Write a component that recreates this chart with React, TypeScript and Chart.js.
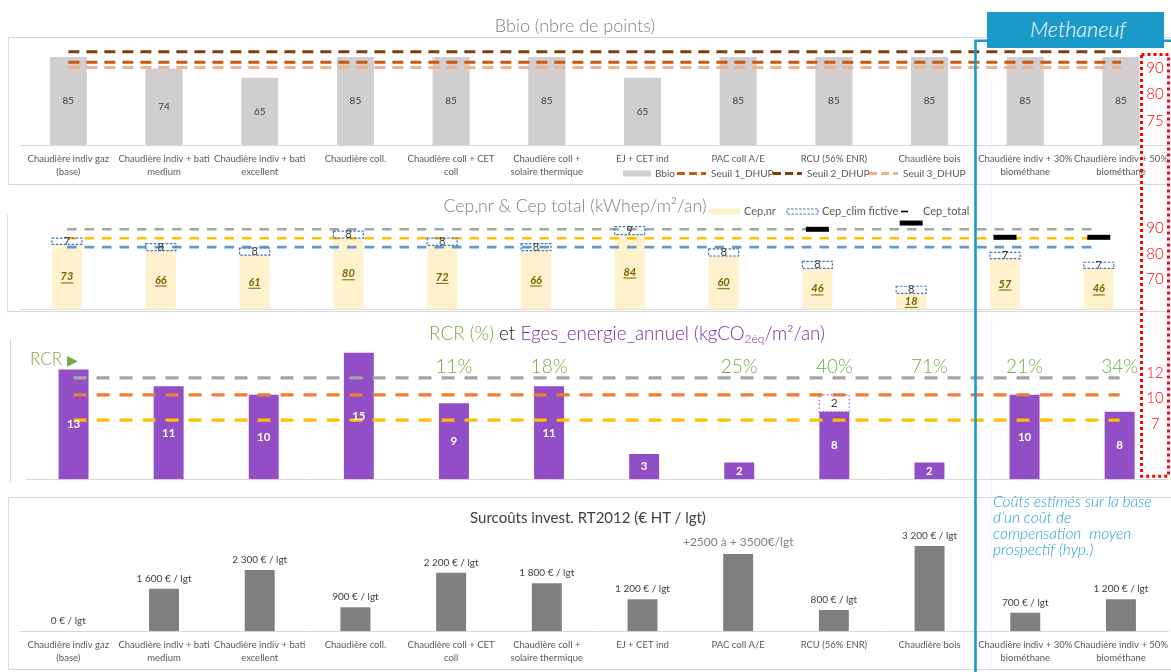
import React, { useEffect, useRef } from "react";
import { Chart, registerables } from "chart.js";

Chart.register(...registerables);

const W = 1171;
const H = 672;
const FONT = "Lato, 'Noto Sans', sans-serif";

// Scenario names, split over two lines
const categories: string[][] = [
  ["Chaudière indiv gaz", "(base)"],
  ["Chaudière indiv + bati", "medium"],
  ["Chaudière indiv + bati", "excellent"],
  ["Chaudière coll."],
  ["Chaudière coll + CET", "coll"],
  ["Chaudière coll +", "solaire thermique"],
  ["EJ + CET ind"],
  ["PAC coll A/E"],
  ["RCU (56% ENR)"],
  ["Chaudière bois"],
  ["Chaudière indiv + 30%", "biométhane"],
  ["Chaudière indiv + 50%", "biométhane"],
];

// Bbio (points)
const bbio = [85, 74, 65, 85, 85, 85, 65, 85, 85, 85, 85, 85];
const seuil1 = [80, 80, 80, 80, 80, 80, 80, 80, 80, 80, 80, 80];
const seuil2 = [90, 90, 90, 90, 90, 90, 90, 90, 90, 90, 90, 90];
const seuil3 = [75, 75, 75, 75, 75, 75, 75, 75, 75, 75, 75, 75];

// Cep (kWhep/m²/an)
const cepNr = [73, 66, 61, 80, 72, 66, 84, 60, 46, 18, 57, 46];
const cepClim = [7, 8, 8, 8, 8, 8, 9, 8, 8, 8, 7, 7];
const cepTotal = [null, null, null, null, null, null, null, null, 90, 97, 81, 81];
const cepRefHigh = [90, 90, 90, 90, 90, 90, 90, 90, 90, 90, 90, 90];
const cepRefMid = [80, 80, 80, 80, 80, 80, 80, 80, 80, 80, 80, 80];
const cepRefLow = [70, 70, 70, 70, 70, 70, 70, 70, 70, 70, 70, 70];

// Eges énergie annuel (kgCO2éq/m²/an) and RCR (%)
const eges = [13, 11, 10, 15, 9, 11, 3, 2, 8, 2, 10, 8];
const egesExtra = [null, null, null, null, null, null, null, null, 2, null, null, null];
const rcrPct = [null, null, null, null, 11, 18, null, 25, 40, 71, 21, 34];
const egesRefHigh = [12, 12, 12, 12, 12, 12, 12, 12, 12, 12, 12, 12];
const egesRefMid = [10, 10, 10, 10, 10, 10, 10, 10, 10, 10, 10, 10];
const egesRefLow = [7, 7, 7, 7, 7, 7, 7, 7, 7, 7, 7, 7];

// Surcoûts d'investissement (€ HT / lgt)
const surcouts = [0, 1600, 2300, 900, 2200, 1800, 1200, 2900, 800, 3200, 700, 1200];
const surcoutRangeLabels: (string | null)[] = [null, null, null, null, null, null, null, "+2500 à + 3500€/lgt", null, null, null, null];

type Area = { left: number; right: number; top: number; bottom: number };

const AREA_BBIO: Area = { left: 20.5, right: 1168.8, top: 41.5, bottom: 145 };
const AREA_CEP: Area = { left: 20.1, right: 1145.7, top: 220.4, bottom: 309.4 };
const AREA_EGES: Area = { left: 26, right: 1167.2, top: 352.55, bottom: 479.3 };
const AREA_COST: Area = { left: 20.5, right: 1168.8, top: 538.1, bottom: 631.3 };

const fmtThousands = (v: number) => String(v).replace(/\B(?=(\d{3})+(?!\d))/g, " ");

function txt(
  ctx: CanvasRenderingContext2D,
  t: string,
  x: number,
  y: number,
  font: string,
  color: string,
  align: CanvasTextAlign = "center"
) {
  ctx.font = font;
  ctx.fillStyle = color;
  ctx.textAlign = align;
  ctx.textBaseline = "middle";
  ctx.fillText(t, x, y);
}

function dashLine(ctx: CanvasRenderingContext2D, x0: number, x1: number, y: number, color: string, width: number, dash: number[]) {
  ctx.save();
  ctx.strokeStyle = color;
  ctx.lineWidth = width;
  ctx.setLineDash(dash);
  ctx.beginPath();
  ctx.moveTo(x0, y);
  ctx.lineTo(x1, y);
  ctx.stroke();
  ctx.restore();
}

function dashRect(ctx: CanvasRenderingContext2D, x: number, y: number, w: number, h: number, color: string, width: number, dash: number[]) {
  ctx.save();
  ctx.strokeStyle = color;
  ctx.lineWidth = width;
  ctx.setLineDash(dash);
  ctx.strokeRect(x, y, w, h);
  ctx.restore();
}

function baseOptions(area: Area, yMax: number): any {
  return {
    responsive: false,
    animation: false,
    devicePixelRatio: 1,
    events: [],
    layout: {
      padding: { left: area.left, right: W - area.right, top: area.top, bottom: H - area.bottom },
    },
    plugins: { legend: { display: false }, tooltip: { enabled: false }, title: { display: false } },
    scales: {
      x: {
        stacked: true,
        offset: true,
        grid: { display: false, drawTicks: false },
        ticks: { display: false },
        border: { display: true, color: "#d9d9d9", width: 1 },
        afterFit: (s: any) => {
          s.height = 0;
        },
      },
      y: { display: false, stacked: true, min: 0, max: yMax },
    },
  };
}

function refLine(label: string, data: number[], color: string, width: number, dash: number[], stack: string) {
  return {
    type: "line" as const,
    label,
    data,
    borderColor: color,
    backgroundColor: color,
    borderWidth: width,
    borderDash: dash,
    pointRadius: 0,
    fill: false,
    stack,
    order: 0,
    clip: false,
  };
}

function drawCategoryLabels(chart: any, offset: number, lineGap: number) {
  const ctx: CanvasRenderingContext2D = chart.ctx;
  const xs = chart.scales.x;
  const y0 = chart.chartArea.bottom + offset;
  categories.forEach((lines, i) => {
    const x = xs.getPixelForValue(i);
    lines.forEach((t, k) => txt(ctx, t, x, y0 + k * lineGap, `9.5px ${FONT}`, "#595959"));
  });
}

function bbioConfig(): any {
  return {
    type: "bar",
    data: {
      labels: categories,
      datasets: [
        {
          type: "bar",
          label: "Bbio",
          data: bbio,
          backgroundColor: "#d0cece",
          barPercentage: 0.387,
          categoryPercentage: 1,
          stack: "bbio",
          order: 2,
        },
        refLine("Seuil 1_DHUP", seuil1, "#c55a11", 3, [11, 7], "s1"),
        refLine("Seuil 2_DHUP", seuil2, "#843c0c", 3, [11, 7], "s2"),
        refLine("Seuil 3_DHUP", seuil3, "#f4b183", 3, [11, 7], "s3"),
      ],
    },
    options: baseOptions(AREA_BBIO, 100),
    plugins: [
      {
        id: "bbioLabels",
        afterDatasetsDraw(chart: any) {
          const ctx: CanvasRenderingContext2D = chart.ctx;
          ctx.save();
          drawCategoryLabels(chart, 14.3, 13);
          chart.getDatasetMeta(0).data.forEach((el: any, i: number) => {
            txt(ctx, String(bbio[i]), el.x, (el.y + el.base) / 2, `10px ${FONT}`, "#404040");
          });
          // legend
          const ly = 173.5;
          ctx.fillStyle = "#d0cece";
          ctx.fillRect(623, ly - 3, 28, 6);
          txt(ctx, "Bbio", 655, ly, `10px ${FONT}`, "#595959", "left");
          dashLine(ctx, 677, 706, ly, "#c55a11", 3, [8, 4]);
          txt(ctx, "Seuil 1_DHUP", 711, ly, `10px ${FONT}`, "#595959", "left");
          dashLine(ctx, 773, 802, ly, "#843c0c", 3, [8, 4]);
          txt(ctx, "Seuil 2_DHUP", 807, ly, `10px ${FONT}`, "#595959", "left");
          dashLine(ctx, 869, 898, ly, "#f4b183", 3, [8, 4]);
          txt(ctx, "Seuil 3_DHUP", 903, ly, `10px ${FONT}`, "#595959", "left");
          ctx.restore();
        },
      },
    ],
  };
}

function cepConfig(): any {
  return {
    type: "bar",
    data: {
      labels: categories,
      datasets: [
        {
          type: "bar",
          label: "Cep,nr",
          data: cepNr,
          backgroundColor: "#fff2cc",
          barPercentage: 0.32,
          categoryPercentage: 1,
          stack: "cep",
          order: 2,
        },
        {
          type: "bar",
          label: "Cep_clim fictive",
          data: cepClim,
          backgroundColor: "#ffffff",
          barPercentage: 0.32,
          categoryPercentage: 1,
          stack: "cep",
          order: 2,
        },
        refLine("ref 90", cepRefHigh, "#a5a5a5", 2.6, [9.5, 8], "r1"),
        refLine("ref 80", cepRefMid, "#ffc000", 2.6, [9.5, 8], "r2"),
        refLine("ref 70", cepRefLow, "#5b9bd5", 2.6, [9.5, 8], "r3"),
        {
          type: "line",
          label: "Cep_total",
          data: cepTotal,
          showLine: false,
          pointStyle: "line",
          pointRadius: 11.5,
          pointBorderWidth: 5,
          pointBorderColor: "#000000",
          pointBackgroundColor: "#000000",
          borderColor: "#000000",
          stack: "tot",
          order: -1,
          clip: false,
        },
      ],
    },
    options: baseOptions(AREA_CEP, 100),
    plugins: [
      {
        id: "cepLabels",
        afterDatasetsDraw(chart: any) {
          const ctx: CanvasRenderingContext2D = chart.ctx;
          ctx.save();
          // dashed outline of the fictive cooling part
          chart.getDatasetMeta(1).data.forEach((el: any) => {
            dashRect(ctx, el.x - el.width / 2, el.y, el.width, el.base - el.y, "#4472c4", 1.2, [2.5, 1.5]);
          });
          chart.getDatasetMeta(0).data.forEach((el: any, i: number) => {
            const y = (el.y + el.base) / 2;
            const s = String(cepNr[i]);
            const font = `italic 700 11px ${FONT}`;
            txt(ctx, s, el.x, y, font, "#7f6000");
            const w = ctx.measureText(s).width;
            ctx.fillStyle = "#7f6000";
            ctx.fillRect(el.x - w / 2, y + 5.5, w, 1);
          });
          chart.getDatasetMeta(1).data.forEach((el: any, i: number) => {
            txt(ctx, String(cepClim[i]), el.x, (el.y + el.base) / 2, `11px ${FONT}`, "#404040");
          });
          // legend
          const ly = 211.5;
          ctx.fillStyle = "#fff2cc";
          ctx.fillRect(709, ly - 3, 31, 6);
          txt(ctx, "Cep,nr", 744, ly, `11px ${FONT}`, "#595959", "left");
          ctx.fillStyle = "#ffffff";
          ctx.fillRect(787, ly - 2.5, 31, 5);
          dashRect(ctx, 787, ly - 2.5, 31, 5, "#4472c4", 1.2, [2.5, 1.5]);
          txt(ctx, "Cep_clim fictive", 822, ly, `11px ${FONT}`, "#595959", "left");
          ctx.fillStyle = "#000000";
          ctx.fillRect(901, ly - 0.8, 7, 1.6);
          txt(ctx, "Cep_total", 923, ly, `11px ${FONT}`, "#595959", "left");
          ctx.restore();
        },
      },
    ],
  };
}

function egesConfig(): any {
  return {
    type: "bar",
    data: {
      labels: categories,
      datasets: [
        {
          type: "bar",
          label: "Eges_energie_annuel",
          data: eges,
          backgroundColor: "#914ec6",
          barPercentage: 0.315,
          categoryPercentage: 1,
          stack: "eges",
          order: 2,
        },
        {
          type: "bar",
          label: "Eges complément",
          data: egesExtra,
          backgroundColor: "#ffffff",
          barPercentage: 0.315,
          categoryPercentage: 1,
          stack: "eges",
          order: 2,
        },
        refLine("ref 12", egesRefHigh, "#a5a5a5", 3.2, [13, 10], "e1"),
        refLine("ref 10", egesRefMid, "#ed7d31", 3.2, [13, 10], "e2"),
        refLine("ref 7", egesRefLow, "#ffc000", 3.2, [13, 10], "e3"),
      ],
    },
    options: baseOptions(AREA_EGES, 15),
    plugins: [
      {
        id: "egesLabels",
        afterDatasetsDraw(chart: any) {
          const ctx: CanvasRenderingContext2D = chart.ctx;
          ctx.save();
          chart.getDatasetMeta(1).data.forEach((el: any, i: number) => {
            if (egesExtra[i] == null) return;
            dashRect(ctx, el.x - el.width / 2, el.y, el.width, el.base - el.y, "#9a60d0", 1.4, [1.2, 2.6]);
            txt(ctx, String(egesExtra[i]), el.x, (el.y + el.base) / 2, `12px ${FONT}`, "#404040");
          });
          chart.getDatasetMeta(0).data.forEach((el: any, i: number) => {
            txt(ctx, String(eges[i]), el.x, (el.y + el.base) / 2, `700 11.5px ${FONT}`, "#ffffff");
          });
          const xs = chart.scales.x;
          const py = chart.chartArea.top + 14.2;
          rcrPct.forEach((v, i) => {
            if (v == null) return;
            txt(ctx, `${v}%`, xs.getPixelForValue(i), py, `300 19px ${FONT}`, "#70ad47");
          });
          ctx.restore();
        },
      },
    ],
  };
}

function costConfig(): any {
  return {
    type: "bar",
    data: {
      labels: categories,
      datasets: [
        {
          type: "bar",
          label: "Surcoûts",
          data: surcouts,
          backgroundColor: "#7f7f7f",
          barPercentage: 0.313,
          categoryPercentage: 1,
          order: 1,
        },
      ],
    },
    options: baseOptions(AREA_COST, 3500),
    plugins: [
      {
        id: "costLabels",
        afterDatasetsDraw(chart: any) {
          const ctx: CanvasRenderingContext2D = chart.ctx;
          ctx.save();
          drawCategoryLabels(chart, 13.7, 12.5);
          chart.getDatasetMeta(0).data.forEach((el: any, i: number) => {
            const range = surcoutRangeLabels[i];
            if (range) {
              txt(ctx, range, el.x, el.y - 12.4, `12px ${FONT}`, "#7f7f7f");
            } else {
              txt(ctx, `${fmtThousands(surcouts[i])} € / lgt`, el.x, el.y - 10.3, `10px ${FONT}`, "#404040");
            }
          });
          ctx.restore();
        },
      },
    ],
  };
}

const centered = (x: number, y: number, style: React.CSSProperties = {}): React.CSSProperties => ({
  position: "absolute",
  left: x,
  top: y,
  transform: "translate(-50%, -50%)",
  whiteSpace: "pre",
  lineHeight: 1,
  fontFamily: FONT,
  ...style,
});

const leftMid = (x: number, y: number, style: React.CSSProperties = {}): React.CSSProperties => ({
  position: "absolute",
  left: x,
  top: y,
  transform: "translateY(-50%)",
  whiteSpace: "pre",
  lineHeight: 1,
  fontFamily: FONT,
  ...style,
});

const thresholdMarks: { value: number; y: number }[] = [
  { value: seuil2[0], y: 67 },
  { value: seuil1[0], y: 93 },
  { value: seuil3[0], y: 120 },
  { value: cepRefHigh[0], y: 226.7 },
  { value: cepRefMid[0], y: 252.7 },
  { value: cepRefLow[0], y: 278.3 },
  { value: egesRefHigh[0], y: 371.5 },
  { value: egesRefMid[0], y: 397.3 },
  { value: egesRefLow[0], y: 422.7 },
];

const noteLines = ["Coûts estimés sur la base", "d’un coût de", "compensation  moyen", "prospectif (hyp.)"];

export default function App() {
  const r1 = useRef<HTMLCanvasElement>(null);
  const r2 = useRef<HTMLCanvasElement>(null);
  const r3 = useRef<HTMLCanvasElement>(null);
  const r4 = useRef<HTMLCanvasElement>(null);

  useEffect(() => {
    document.body.style.margin = "0";
    const charts = [
      new Chart(r1.current as HTMLCanvasElement, bbioConfig()),
      new Chart(r2.current as HTMLCanvasElement, cepConfig()),
      new Chart(r3.current as HTMLCanvasElement, egesConfig()),
      new Chart(r4.current as HTMLCanvasElement, costConfig()),
    ];
    return () => charts.forEach((c) => c.destroy());
  }, []);

  const canvasStyle: React.CSSProperties = { position: "absolute", left: 0, top: 0 };
  const blue = "#1a9ac8";

  return (
    <div style={{ position: "relative", width: W, height: H, overflow: "hidden", background: "#ffffff" }}>
      <svg width={W} height={H} style={{ position: "absolute", left: 0, top: 0 }}>
        <g fill="none" stroke="#d9d9d9" strokeWidth={1}>
          <path d={`M ${W} 37.5 H 8.5 V 184.5 H ${W}`} />
          <path d={`M 7.5 215 V 312.5 M 7.5 311.5 H ${W}`} />
          <path d="M 10.5 339 V 482" />
          <path d={`M ${W} 497.5 H 8.5 V 669.5 H ${W}`} />
        </g>
      </svg>
      <canvas ref={r1} width={W} height={H} style={canvasStyle} />
      <canvas ref={r2} width={W} height={H} style={canvasStyle} />
      <canvas ref={r3} width={W} height={H} style={canvasStyle} />
      <canvas ref={r4} width={W} height={H} style={canvasStyle} />

      <svg width={W} height={H} style={{ position: "absolute", left: 0, top: 0 }}>
        <path d={`M 975.5 672 V 40.8 H ${W}`} fill="none" stroke={blue} strokeWidth={2.6} />
        <rect x={1141.5} y={54.5} width={27} height={421.7} fill="none" stroke="#ff0000" strokeWidth={3} strokeDasharray="3 3" />
      </svg>

      {/* Methaneuf header */}
      <div style={{ position: "absolute", left: 987, top: 12, width: 177, height: 36, background: blue }} />
      <div style={centered(1078, 30, { color: "#ffffff", fontSize: 21.5, fontStyle: "italic", fontWeight: 300 })}>Methaneuf</div>

      {/* panel titles */}
      <div style={centered(575, 25, { color: "#7f7f7f", fontSize: 18, fontWeight: 300 })}>Bbio (nbre de points)</div>
      <div style={centered(575, 206, { color: "#7f7f7f", fontSize: 17.7, fontWeight: 300 })}>Cep,nr &amp; Cep total (kWhep/m²/an)</div>
      <div style={centered(627, 333, { fontSize: 18.8, fontWeight: 300 })}>
        <span style={{ color: "#70ad47" }}>RCR (%)</span>
        <span style={{ color: "#262626" }}> et </span>
        <span style={{ color: "#7030a0" }}>
          Eges_energie_annuel (kgCO<sub style={{ fontSize: 12, verticalAlign: "-3px", lineHeight: 0 }}>2éq</sub>/m²/an)
        </span>
      </div>
      <div style={centered(588, 517, { color: "#404040", fontSize: 15 })}>Surcoûts invest. RT2012 (€ HT / lgt)</div>

      {/* RCR marker */}
      <div style={leftMid(30, 358, { color: "#70ad47", fontSize: 17, fontWeight: 300 })}>
        RCR <span style={{ fontFamily: "'DejaVu Sans', sans-serif", fontSize: 14 }}>▶</span>
      </div>

      {/* threshold values */}
      {thresholdMarks.map((m, i) => (
        <div key={i} style={centered(1155, m.y, { color: "#ff0000", fontSize: 15, fontWeight: 300 })}>
          {String(m.value)}
        </div>
      ))}

      {/* cost note */}
      {noteLines.map((t, i) => (
        <div key={i} style={leftMid(993, 501.7 + i * 16.1, { color: "#1ea0d2", fontSize: 15.5, fontStyle: "italic", fontWeight: 300 })}>
          {t}
        </div>
      ))}
    </div>
  );
}
